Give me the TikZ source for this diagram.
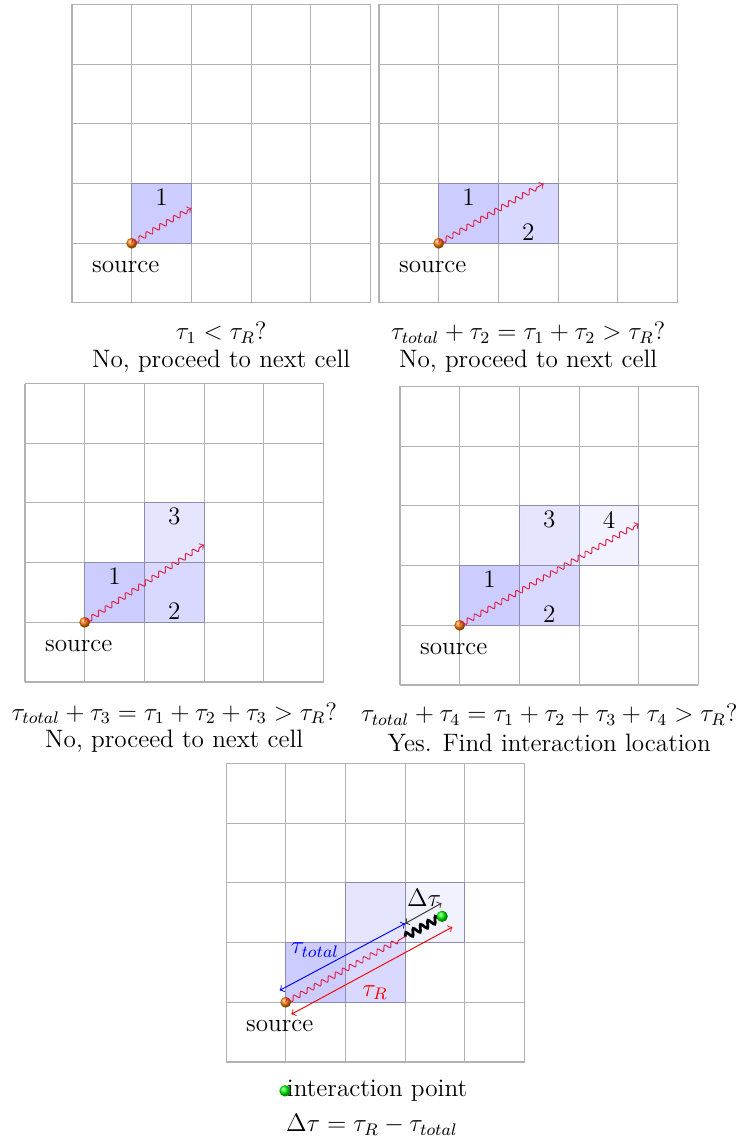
\documentclass[tikz,border=0pt,12pt]{standalone}
\usetikzlibrary{decorations.pathmorphing}
\definecolor{wavecol}{RGB}{222,30,70}
\definecolor{cellborder}{RGB}{140,140,178}
\tikzset{
  gridline/.style={draw=black!30, line width=0.5pt},
  cellone/.style={fill=blue!20, draw=cellborder, line width=0.5pt},
  celltwo/.style={fill=blue!15, draw=cellborder, line width=0.5pt},
  cellthree/.style={fill=blue!10, draw=cellborder, line width=0.5pt},
  cellfour/.style={fill=blue!5, draw=cellborder, line width=0.5pt},
  wave/.style={draw=wavecol, line width=0.45pt, decorate,
    decoration={snake, amplitude=1.2pt, segment length=3.8pt, post length=2pt}},
  thickwave/.style={draw=black, line width=1.3pt, decorate,
    decoration={snake, amplitude=1.6pt, segment length=4pt}},
  srcball/.style={circle, inner sep=0pt, minimum size=0.18cm, shading=ball, ball color=orange},
  hitball/.style={circle, inner sep=0pt, minimum size=0.19cm, shading=ball, ball color=green},
  lbl/.style={inner sep=0pt},
  capline/.style={inner sep=0pt, anchor=mid},
  measure/.style={line width=0.45pt, <->},
}
\begin{document}
\begin{tikzpicture}[x=1cm,y=1cm]
\useasboundingbox (0,0) rectangle (12.3786,19.0620);

% ---------- Panel 1 ----------
\begin{scope}[shift={(1.206,13.987)}]
  \draw[gridline] (0,0) grid (5,5);
  \filldraw[cellone] (1,1) rectangle (2,2);
  \node[lbl] (aone) at (1.5,1.77) {1};
  \node[srcball] (asrc) at (1,1) {};
  \coordinate (aend) at (2.0,1.59);
  \draw[wave,->] (asrc.center) -- (aend);
  \node[lbl] (asrclbl) at (0.9,0.6) {source};
\end{scope}
\node[capline] (acap1) at (3.706,13.47) {$\tau_1 < \tau_R$?};
\node[capline] (acap2) at (3.706,13.0) {No, proceed to next cell};

% ---------- Panel 2 ----------
\begin{scope}[shift={(6.348,13.987)}]
  \draw[gridline] (0,0) grid (5,5);
  \filldraw[cellone] (1,1) rectangle (2,2);
  \filldraw[celltwo] (2,1) rectangle (3,2);
  \node[lbl] (bone) at (1.5,1.77) {1};
  \node[lbl] (btwo) at (2.5,1.18) {2};
  \node[srcball] (bsrc) at (1,1) {};
  \coordinate (bend) at (2.76,2.0);
  \draw[wave,->] (bsrc.center) -- (bend);
  \node[lbl] (bsrclbl) at (0.9,0.6) {source};
\end{scope}
\node[capline] (bcap1) at (8.848,13.47) {$\tau_{total} + \tau_2 = \tau_1 + \tau_2 > \tau_R$?};
\node[capline] (bcap2) at (8.848,13.0) {No, proceed to next cell};

% ---------- Panel 3 ----------
\begin{scope}[shift={(0.419,7.638)}]
  \draw[gridline] (0,0) grid (5,5);
  \filldraw[cellone] (1,1) rectangle (2,2);
  \filldraw[celltwo] (2,1) rectangle (3,2);
  \filldraw[cellthree] (2,2) rectangle (3,3);
  \node[lbl] (cone) at (1.5,1.77) {1};
  \node[lbl] (ctwo) at (2.5,1.18) {2};
  \node[lbl] (cthree) at (2.5,2.77) {3};
  \node[srcball] (csrc) at (1,1) {};
  \coordinate (cend) at (3.0,2.3);
  \draw[wave,->] (csrc.center) -- (cend);
  \node[lbl] (csrclbl) at (0.9,0.6) {source};
\end{scope}
\node[capline] (ccap1) at (2.919,7.09) {$\tau_{total} + \tau_3 = \tau_1 + \tau_2 + \tau_3 > \tau_R$?};
\node[capline] (ccap2) at (2.919,6.64) {No, proceed to next cell};

% ---------- Panel 4 ----------
\begin{scope}[shift={(6.700,7.588)}]
  \draw[gridline] (0,0) grid (5,5);
  \filldraw[cellone] (1,1) rectangle (2,2);
  \filldraw[celltwo] (2,1) rectangle (3,2);
  \filldraw[cellthree] (2,2) rectangle (3,3);
  \filldraw[cellfour] (3,2) rectangle (4,3);
  \node[lbl] (done) at (1.5,1.77) {1};
  \node[lbl] (dtwo) at (2.5,1.18) {2};
  \node[lbl] (dthree) at (2.5,2.77) {3};
  \node[lbl] (dfour) at (3.5,2.77) {4};
  \node[srcball] (dsrc) at (1,1) {};
  \coordinate (dend) at (4.0,2.7);
  \draw[wave,->] (dsrc.center) -- (dend);
  \node[lbl] (dsrclbl) at (0.9,0.6) {source};
\end{scope}
\node[capline] (dcap1) at (9.2,7.06) {$\tau_{total} + \tau_4 = \tau_1 + \tau_2 + \tau_3 + \tau_4 > \tau_R$?};
\node[capline] (dcap2) at (9.2,6.57) {Yes. Find interaction location};

% ---------- Panel 5 ----------
\begin{scope}[shift={(3.786,1.273)}]
  \draw[gridline] (0,0) grid (5,5);
  \filldraw[cellone] (1,1) rectangle (2,2);
  \filldraw[celltwo] (2,1) rectangle (3,2);
  \filldraw[cellthree] (2,2) rectangle (3,3);
  \filldraw[cellfour] (3,2) rectangle (4,3);
  \node[srcball] (esrc) at (1,1) {};
  \coordinate (emid) at (3.0,2.1);
  \coordinate (ehitc) at (3.62,2.44);
  \draw[wave] (esrc.center) -- (emid);
  \draw[thickwave] (emid) -- (ehitc);
  \node[hitball] (ehit) at (ehitc) {};
  \coordinate (ebs) at (0.9,1.2);
  \coordinate (ebe) at (3.0,2.32);
  \coordinate (eke) at (3.61,2.66);
  \coordinate (ers) at (1.095,0.8);
  \coordinate (ere) at (3.79,2.26);
  \draw[measure, blue] (ebs) -- (ebe);
  \draw[measure, black!80] (ebe) -- (eke);
  \draw[measure, red] (ers) -- (ere);
  \node[lbl, text=blue] (etot) at (1.49,1.876) {$\tau_{total}$};
  \node[lbl, text=red] (eR) at (2.496,1.164) {$\tau_R$};
  \node[lbl] (edt) at (3.317,2.747) {$\Delta\tau$};
  \node[lbl] (esrclbl) at (0.9,0.6) {source};
\end{scope}
\node[inner sep=0pt, anchor=mid west] (legtxt) at (4.80,0.79) {interaction point};
\node[hitball] (legball) at (4.774,0.79) {};
\node[capline] (legeq) at (6.23,0.2) {$\Delta\tau = \tau_R - \tau_{total}$};
\end{tikzpicture}
\end{document}
